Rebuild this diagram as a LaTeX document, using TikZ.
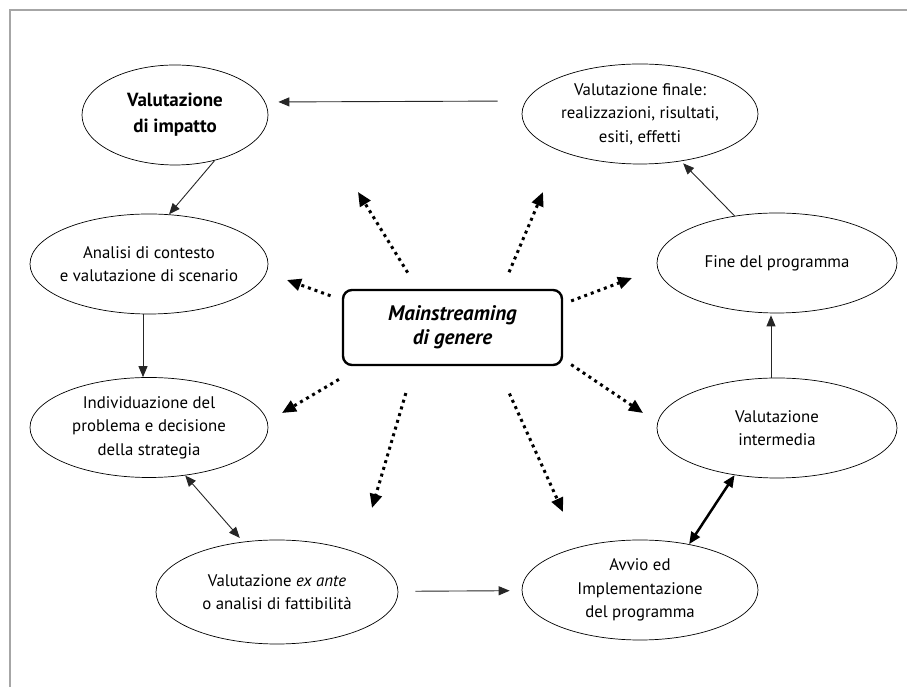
\documentclass[tikz,border=0pt]{standalone}
\usepackage{fontspec}
\setmainfont{PT Sans}
\usetikzlibrary{shapes.geometric,arrows.meta}

\tikzset{
  stage/.style={ellipse, draw, line width=0.7pt, inner sep=0pt, minimum height=100pt},
  stagetext/.style={align=center, inner sep=0pt, font=\fontsize{16.8pt}{23.5pt}\selectfont},
  hub/.style={draw, line width=2.4pt, rounded corners=9pt, minimum width=219pt, minimum height=75pt,
    align=center, font=\fontsize{21pt}{24pt}\selectfont\bfseries\itshape},
  flow/.style={draw=black!85, line width=0.9pt, -{Triangle[length=11pt,width=9pt]}},
  spread/.style={line width=3pt, dash pattern=on 3pt off 4pt, -{Triangle[length=14pt,width=12pt]}},
}

\begin{document}
\begin{tikzpicture}[x=1pt,y=1pt]
  \useasboundingbox (0,0) rectangle (907,687);
  % frame
  \draw[line width=2pt, black!35] (9.5,0) -- (9.5,677) -- (907,677);

  % centre
  \node[hub] (hub) at (452.5,359.5) {Mainstreaming\\di genere};

  % cycle of stages
  \node[stage, minimum width=186pt,
    label={[stagetext, font=\fontsize{19pt}{26pt}\selectfont\bfseries]center:{Valutazione\\di impatto}}]
    (impatto) at (175,572) {};
  \node[stage, minimum width=236pt,
    label={[stagetext]center:{Valutazione finale:\\realizzazioni, risultati,\\esiti, effetti}}]
    (finale) at (640,573) {};
  \node[stage, minimum width=238pt,
    label={[stagetext]center:{Analisi di contesto\\e valutazione di scenario}}]
    (analisi) at (149,423) {};
  \node[stage, minimum width=238pt,
    label={[stagetext]center:{Individuazione del\\problema e decisione\\della strategia}}]
    (individ) at (149,259.5) {};
  \node[stage, minimum width=242pt, minimum height=104pt,
    label={[stagetext]center:{Valutazione \textit{ex ante}\\o analisi di fattibilità}}]
    (exante) at (277,95) {};
  \node[stage, minimum width=236pt,
    label={[stagetext]center:{Avvio ed\\Implementazione\\del programma}}]
    (avvio) at (640,97) {};
  \node[stage, minimum width=240pt,
    label={[stagetext]center:{Valutazione\\intermedia}}]
    (intermedia) at (777,259) {};
  \node[stage, minimum width=240pt,
    label={[stagetext]center:{Fine del programma}}]
    (fine) at (777,424) {};

  % solid connectors
  \draw[flow, shorten <=24pt, shorten >=10pt] ([yshift=13pt]finale.west) -- ([yshift=13pt]impatto.east);
  \draw[flow] (impatto.-49) -- (analisi.68);
  \draw[flow] ([xshift=-6pt]analisi.south) -- ([xshift=-6pt]individ.north);
  \draw[flow, {Triangle[length=11pt,width=9pt]}-{Triangle[length=11pt,width=9pt]}, shorten >=5pt]
    (individ.-53) -- (exante.124);
  \draw[flow, shorten <=17pt, shorten >=12pt] (exante) -- (avvio);
  \draw[line width=2.5pt, {Triangle[length=12pt,width=10pt]}-{Triangle[length=12pt,width=10pt]}]
    (avvio.43) -- (intermedia.228);
  \draw[flow, shorten >=2pt] ([xshift=-6pt]intermedia.north) -- ([xshift=-6pt]fine.south);
  \draw[flow, shorten >=3pt] (fine.132) -- (finale.-49);

  % dotted rays from the centre
  \coordinate (toimpatto) at (358,495);
  \coordinate (tofinale) at (543,495);
  \coordinate (toanalisi) at (287,407);
  \coordinate (tofine) at (632,409);
  \coordinate (toindivid) at (282,274);
  \coordinate (toexante) at (372,179);
  \coordinate (toavvio) at (563,175);
  \coordinate (tointermedia) at (643,274);
  \draw[spread, shorten <=19pt] (hub.132.6) -- (toimpatto);
  \draw[spread, shorten <=18pt] (hub.38.5) -- (tofinale);
  \draw[spread, shorten <=12pt] (hub.166.5) -- (toanalisi);
  \draw[spread, shorten <=8.5pt] (hub.12.5) -- (tofine);
  \draw[spread, shorten <=26pt] (hub.203.5) -- (toindivid);
  \draw[spread, shorten <=28pt] (hub.225.5) -- (toexante);
  \draw[spread, shorten <=30pt] (hub.-41.8) -- (toavvio);
  \draw[spread, shorten <=9.6pt] (hub.-16.4) -- (tointermedia);
\end{tikzpicture}
\end{document}
